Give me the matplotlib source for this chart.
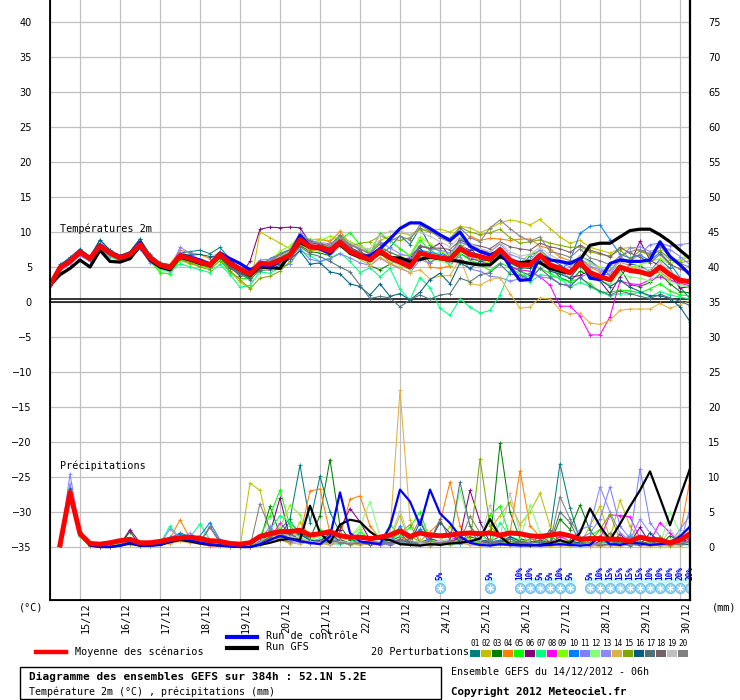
import matplotlib
matplotlib.use("Agg")
import matplotlib.pyplot as plt
from matplotlib.lines import Line2D
from matplotlib.patches import Rectangle

W, H = 740, 700
MONO = "DejaVu Sans Mono"

# time axis : hours after 14/12 06h, one value every 6h
hours = list(range(0, 385, 6))
rain_hours = hours[1:]

mean_t = [2.4,4.9,5.8,7.1,6.2,8.0,7.0,6.3,6.8,8.2,
	6.3,5.3,4.9,6.6,6.2,5.7,5.3,6.8,5.5,4.7,
	4.0,5.5,5.4,6.0,6.7,8.9,7.9,7.8,7.3,8.5,
	7.2,6.6,6.0,7.3,6.3,5.7,5.0,7.0,6.6,6.3,
	6.1,7.6,6.8,6.5,6.1,7.5,6.0,5.3,5.3,6.7,
	5.3,4.8,4.2,5.6,4.2,3.6,3.2,5.0,4.5,4.3,
	3.9,5.0,3.9,3.1,2.9]
ctrl_t = [2.4,5.0,5.9,7.2,6.3,8.2,7.1,6.5,6.9,8.5,
	6.2,5.2,4.8,6.7,6.4,6.0,5.4,7.0,6.2,5.5,
	4.6,5.2,5.0,5.8,6.8,9.5,8.0,7.6,6.9,8.6,
	7.0,6.5,6.6,7.6,9.0,10.5,11.3,11.3,10.5,9.6,
	8.8,10.0,8.0,7.2,6.7,7.4,5.0,3.1,3.2,6.7,
	6.0,5.8,5.5,6.2,3.4,3.2,5.5,6.0,5.8,5.8,
	6.0,8.6,6.5,5.3,3.9]
gfs_t = [2.4,3.9,4.8,6.0,5.0,7.4,5.8,5.7,6.2,8.0,
	6.0,5.0,4.6,6.4,6.0,5.5,5.2,6.6,5.7,4.7,
	3.8,5.0,4.9,4.8,6.8,8.5,7.8,7.6,7.5,8.2,
	7.0,6.4,6.0,7.0,6.3,6.3,5.8,6.1,6.4,6.2,
	6.0,5.8,5.5,5.3,5.3,6.5,5.8,5.6,5.8,5.6,
	4.8,4.4,4.1,6.0,8.1,8.4,8.4,9.3,10.2,10.4,
	10.4,9.6,8.6,7.4,6.2]

mean_p = [0.3,7.8,1.9,0.5,0.4,0.6,0.9,1.1,0.6,0.6,
	0.8,1.1,1.3,1.4,1.2,0.9,0.8,0.5,0.4,0.6,
	1.5,1.9,2.2,2.2,2.4,1.7,1.9,2.2,1.6,1.4,
	1.4,1.2,1.4,1.7,2.3,1.5,2.0,1.7,1.6,1.7,
	1.9,2.0,1.9,2.0,1.7,2.0,1.9,1.6,1.5,1.7,
	1.9,1.6,1.1,1.2,1.2,1.1,1.1,0.8,1.4,1.1,
	1.0,0.6,1.0,1.9]
ctrl_p = [0.3,7.9,2.0,0.3,0.0,0.0,0.2,0.6,0.2,0.2,
	0.3,0.8,1.2,1.0,0.6,0.4,0.2,0.1,0.0,0.0,
	0.4,1.0,1.6,1.2,0.8,0.6,0.4,1.5,7.8,2.0,
	0.8,0.6,0.4,2.9,8.2,6.5,3.1,8.2,4.8,3.4,
	1.5,0.6,0.3,0.2,0.4,0.3,0.2,0.3,0.2,0.3,
	0.4,0.3,0.2,0.3,1.5,0.4,0.3,0.6,0.5,0.3,
	0.4,0.6,1.5,2.9]
gfs_p = [0.3,7.5,1.8,0.2,0.0,0.0,0.2,0.5,0.2,0.2,
	0.3,0.7,1.0,0.8,0.5,0.3,0.2,0.1,0.0,0.0,
	0.3,0.6,1.0,1.2,1.0,5.9,2.0,0.6,3.2,3.9,
	3.6,2.2,1.2,1.0,0.4,0.3,0.2,0.4,0.3,0.5,
	0.6,0.8,1.2,4.0,1.5,0.4,0.3,0.2,0.3,0.5,
	1.0,0.5,2.0,5.5,3.0,1.0,3.3,5.8,8.1,10.8,
	7.0,3.1,7.2,11.2]

# 20 perturbations, temperature (°C)
t01 = [2.4,5.4,6.2,7.4,6.5,8.8,7.4,6.6,7.2,9.0, 6.8,5.6,5.3,7.0,7.2,7.4,6.9,7.8,6.1,4.3,
	3.5,5.0,6.2,6.9,7.5,9.8,8.6,8.4,8.0,9.6, 8.3,7.4,5.9,6.8,7.8,9.5,8.2,10.6,8.1,7.2,
	6.3,9.2,7.8,6.1,5.9,6.4,5.8,4.9,6.6,7.4, 6.2,5.3,4.3,6.5,5.9,4.8,3.9,6.2,5.5,5.1, 4.4,6.1,4.8,2.1,0.5]
t02 = [2.4,4.6,5.5,6.8,6.0,7.7,6.6,6.0,6.4,7.8, 5.9,5.0,4.6,6.0,5.4,5.2,4.8,6.4,4.5,2.8,
	2.0,10.0,9.2,8.4,7.6,8.5,8.2,8.9,8.8,9.4, 8.6,7.9,7.2,8.8,9.4,9.9,9.6,10.4,10.2,10.4,
	10.0,10.8,10.6,9.9,10.5,11.3,11.7,11.5,11.0,11.8, 10.5,9.3,8.4,8.8,7.8,7.4,7.0,7.6,7.8,7.3, 6.9,7.2,6.4,5.8,6.6]
t03 = [2.4,5.0,5.9,7.2,6.3,8.1,7.1,6.4,7.0,8.4, 6.1,4.9,4.8,6.4,6.1,5.4,5.0,6.3,4.8,4.0,
	3.6,4.6,5.1,5.4,6.3,8.1,7.2,7.0,6.6,8.0, 7.7,7.0,5.2,4.6,5.4,6.3,5.4,7.8,5.6,6.6,
	5.2,6.9,6.2,5.9,6.6,7.6,5.2,4.4,3.8,5.8, 5.0,3.5,2.9,4.4,3.7,3.0,2.5,4.8,2.5,2.2, 2.8,4.0,2.6,1.5,1.3]
t04 = [2.4,4.8,5.9,7.0,6.4,8.1,7.3,6.7,7.1,8.0, 6.6,5.4,5.4,7.4,7.0,6.8,6.2,7.2,5.8,4.6,
	3.7,5.2,5.8,6.6,7.2,8.7,8.9,9.0,8.6,10.1, 8.3,7.6,6.8,7.1,5.5,4.9,6.2,7.2,5.0,4.8,
	5.2,7.3,9.4,8.8,9.1,9.0,8.8,9.0,9.0,8.0, 7.6,6.4,5.9,6.2,5.0,4.3,4.6,5.7,5.2,4.5, 3.9,4.3,3.2,2.5,2.0]
t05 = [2.4,4.8,5.6,6.9,6.0,7.8,6.8,6.2,6.6,8.0, 5.9,4.2,4.0,6.0,5.6,5.3,4.9,6.2,4.2,3.4,
	3.3,5.8,5.0,6.5,7.1,9.4,7.6,8.1,7.8,8.9, 9.9,8.2,6.9,9.8,8.8,7.6,6.6,8.8,7.4,6.6,
	5.6,6.9,6.0,5.4,4.5,5.6,4.9,4.0,3.5,4.8, 4.1,3.3,2.9,3.4,2.6,1.4,1.4,1.7,1.6,1.3, 1.9,2.6,1.6,1.0,0.9]
t06 = [2.4,4.9,5.7,7.0,6.3,8.0,7.1,6.5,7.0,8.3, 6.1,5.1,4.9,6.4,6.0,5.6,5.2,6.5,5.1,3.7,
	5.8,10.4,10.7,10.6,10.7,10.6,8.5,8.2,8.2,9.2, 7.8,7.1,6.4,7.6,6.6,6.1,6.3,8.0,7.6,8.4,
	6.4,8.1,7.4,7.5,7.0,7.2,5.7,5.0,5.6,6.9, 4.9,4.3,3.5,3.8,4.5,3.0,1.2,3.6,5.4,8.7, 6.0,5.1,4.0,2.0,2.2]
t07 = [2.4,4.7,5.5,6.7,5.9,7.5,6.4,5.9,6.3,7.6, 5.8,4.7,4.3,5.5,5.0,4.6,4.2,5.4,3.9,2.1,
	2.4,4.3,4.1,5.0,5.5,7.4,6.6,5.8,6.3,7.0, 5.8,4.2,4.9,3.6,4.8,1.8,0.3,3.5,2.0,-0.9,
	-1.9,0.4,-0.7,-1.6,-1.2,1.0,4.4,4.9,2.8,3.9, 3.7,3.4,2.1,2.8,2.2,1.4,0.9,1.2,1.1,1.4, 0.7,1.5,1.0,0.7,0.4]
t08 = [2.4,4.8,5.7,7.0,6.1,7.9,6.9,6.2,6.8,8.1, 6.2,5.2,4.8,6.5,6.1,5.6,5.1,6.6,5.4,4.3,
	3.9,5.6,5.3,5.9,6.9,9.4,8.0,7.6,7.1,8.7, 7.4,7.0,5.9,7.4,6.2,5.9,5.4,7.1,6.7,6.3,
	5.7,7.5,6.3,5.8,5.4,6.8,5.0,4.6,4.4,3.6, 2.4,-0.6,-0.6,-2.0,-4.7,-4.7,-2.1,3.0,2.6,2.5, 3.2,3.6,3.1,2.7,2.3]
t09 = [2.4,4.8,5.6,6.8,6.0,7.6,6.6,6.0,6.5,7.7, 5.8,4.9,4.5,6.2,5.7,5.3,5.0,6.4,5.0,4.0,
	3.4,4.9,5.6,7.3,8.0,9.5,9.0,8.8,9.4,9.0, 8.6,8.0,7.3,8.2,7.0,6.6,6.7,9.3,8.3,7.2,
	6.7,8.4,6.9,5.8,5.6,6.4,5.8,5.6,6.9,7.3, 6.1,5.8,5.4,6.2,5.4,5.0,4.7,5.2,4.9,5.3, 5.8,6.2,5.4,6.2,6.7]
t10 = [2.4,5.0,5.9,7.1,6.3,8.1,7.1,6.4,7.0,8.3, 6.5,5.6,5.1,6.9,6.5,6.0,5.6,7.0,5.9,5.0,
	4.4,5.6,5.8,6.3,7.0,9.3,8.2,8.0,7.6,8.9, 7.5,6.9,6.3,7.5,6.6,6.2,5.5,7.4,7.1,6.8,
	6.4,7.9,7.2,6.7,6.4,7.7,6.2,5.8,5.4,6.8, 5.5,4.4,5.9,9.8,10.8,11.0,8.9,6.8,6.3,6.7, 5.9,7.1,5.5,3.5,2.8]
t11 = [2.4,4.4,5.4,6.6,5.8,7.4,6.6,6.0,6.4,7.6, 5.6,5.0,4.6,7.8,7.0,5.9,5.4,7.2,6.0,4.8,
	4.4,5.0,4.8,4.9,5.4,7.6,6.1,5.8,6.2,6.9, 6.3,5.6,5.2,6.3,5.4,4.8,4.2,6.0,5.6,6.4,
	5.6,6.5,4.7,4.4,3.7,3.5,3.0,3.3,4.2,3.6, 3.4,2.6,2.4,3.5,4.2,4.0,3.9,6.4,5.8,6.9, 8.2,8.4,8.0,8.2,8.4]
t12 = [2.4,4.9,5.8,7.0,6.2,8.0,7.0,6.4,6.9,8.2, 6.4,5.4,5.0,6.8,6.3,5.9,5.5,6.9,5.6,4.5,
	3.9,5.1,5.2,5.7,6.4,8.3,7.7,7.4,6.9,8.0, 6.8,6.2,5.6,6.9,5.9,5.2,4.6,6.6,6.1,5.9,
	5.4,7.2,6.5,6.3,5.9,7.0,5.4,4.9,4.8,6.0, 4.6,4.1,3.6,5.0,3.4,3.0,2.5,4.1,3.6,3.4, 3.0,4.1,3.0,2.4,2.1]
t13 = [2.4,5.1,6.0,7.3,6.4,8.3,7.2,6.5,7.0,8.4, 6.6,5.5,5.1,7.1,6.6,6.1,5.7,7.1,5.8,4.9,
	4.6,6.0,6.1,6.8,7.3,9.9,8.8,8.5,8.3,9.2, 8.1,7.6,7.0,8.6,7.7,6.9,6.5,8.1,7.6,7.4,
	7.0,8.6,7.9,7.6,7.1,8.3,6.8,6.3,6.0,7.5, 6.2,5.7,5.0,6.2,5.1,4.6,4.4,6.3,7.7,7.9, 7.2,7.8,7.5,6.5,5.3]
t14 = [2.4,5.0,5.9,7.2,6.2,8.1,7.0,6.4,6.8,8.2, 6.4,5.3,4.8,6.6,6.1,5.6,5.1,6.7,5.3,4.4,
	3.6,4.8,5.0,5.6,6.2,8.3,7.4,7.3,6.8,8.0, 6.8,6.1,5.2,6.4,5.5,4.9,4.2,4.6,3.3,3.7,
	3.8,6.2,2.6,2.4,3.2,3.5,1.2,-0.9,-0.7,0.6, 0.4,-1.1,-1.7,-1.6,-3.0,-3.2,-2.6,-1.2,-1.0,-1.0, -1.0,-0.2,-0.9,-0.4,0.2]
t15 = [2.4,4.9,5.8,7.1,6.1,7.9,6.9,6.2,6.7,8.0, 6.1,5.0,4.7,6.2,5.6,5.0,4.6,5.9,4.4,3.2,
	1.9,3.4,3.7,4.4,5.8,8.6,7.5,7.8,7.8,9.0, 8.0,8.4,8.6,9.4,9.0,8.8,9.2,10.4,10.0,9.6,
	9.1,10.7,10.0,9.6,9.9,10.4,9.2,8.4,8.6,8.9, 8.4,8.1,7.8,7.9,7.2,6.8,6.6,7.4,6.2,7.3, 6.6,7.4,6.0,5.6,5.9]
t16 = [2.4,5.2,6.4,7.6,6.5,8.9,7.4,6.6,7.2,9.0, 6.7,5.6,5.3,6.9,6.7,6.8,6.5,6.4,5.0,4.2,
	3.4,5.2,5.6,5.8,6.1,7.3,5.4,5.6,4.3,4.0, 2.6,2.2,1.0,2.6,0.8,1.2,0.3,1.4,3.2,4.1,
	2.6,5.6,4.8,5.8,6.0,6.9,5.6,4.9,4.8,5.8, 4.4,4.0,3.4,5.2,3.9,3.2,2.2,3.1,2.1,1.5, 0.9,0.9,0.5,-0.7,-2.8]
t17 = [2.4,4.9,5.9,7.0,6.2,8.1,7.0,6.4,6.9,8.4, 6.5,5.4,4.9,6.5,6.0,5.5,5.0,6.4,4.9,4.0,
	3.2,4.5,4.6,5.3,6.1,7.9,6.9,6.5,5.8,5.0, 4.3,2.4,0.5,0.8,0.6,-0.7,0.3,1.0,0.4,1.0,
	1.2,3.4,2.9,3.9,4.2,5.4,4.0,3.8,3.2,4.8, 3.6,2.6,2.2,3.6,2.3,1.6,1.0,1.6,1.2,0.8, 0.5,1.1,0.6,0.1,-0.5]
t18 = [2.4,5.0,5.8,7.1,6.2,8.0,7.0,6.3,6.8,8.1, 6.2,5.1,4.8,6.5,6.1,5.6,5.2,6.7,5.3,4.4,
	3.9,5.7,5.9,6.8,7.4,9.5,8.7,8.3,7.6,9.0, 7.7,7.1,6.6,7.8,7.1,6.5,5.9,8.0,7.7,7.7,
	7.5,8.8,8.3,8.0,7.6,8.6,7.9,7.6,7.4,8.4, 7.9,7.6,7.1,8.1,7.4,7.0,6.4,7.8,7.0,6.4, 5.6,6.8,5.4,4.7,4.2]
t19 = [2.4,4.8,5.7,7.1,6.3,8.1,7.1,6.5,7.0,8.3, 6.4,5.4,5.0,6.7,6.3,5.8,5.4,6.9,5.7,4.8,
	4.2,5.4,5.9,6.6,7.3,9.1,8.4,8.6,8.0,9.3, 8.4,7.8,7.6,9.5,10.1,10.2,9.6,10.0,9.4,8.6,
	7.9,9.3,8.4,7.6,7.2,8.5,7.2,6.6,6.8,7.8, 6.7,6.0,5.4,6.7,5.6,4.8,4.2,5.9,5.0,4.8, 4.6,5.7,4.4,3.4,3.0]
t20 = [2.4,5.0,5.9,7.2,6.3,8.1,7.1,6.5,7.0,8.4, 6.6,5.6,5.2,6.9,6.4,5.9,5.5,7.1,5.8,4.8,
	3.8,5.4,5.8,6.8,7.4,9.6,8.5,8.4,7.9,9.4, 8.2,7.6,6.9,8.3,8.7,9.4,8.9,11.0,10.1,9.2,
	8.5,10.6,9.2,8.6,10.6,11.7,10.5,9.4,8.7,9.3, 7.2,6.9,6.4,7.6,6.3,5.9,5.3,6.6,7.2,7.5, 6.8,8.0,6.4,5.5,5.0]

# 20 perturbations, precipitation (mm / 6h)
p01 = [0.3,8.5,2.0,0.2,0,0,0.3,0.8,0.2,0.3, 0.6,1.2,2.0,1.5,1.0,0.5,0.3,0.2,0,0,
	0.4,1.6,2.5,4.0,11.7,3.5,10.1,5.0,2.0,1.0, 0.8,0.4,0.6,1.2,2.0,0.5,1.0,0.6,0.3,0.8,
	1.2,0.6,0.4,0.8,1.5,0.6,0.8,0.3,1.0,2.0, 11.9,5.6,1.0,0.4,0.2,0.3,0.5,0.2,0.8,0.4, 0.6,0.3,0.5,1.5]
p02 = [0.3,7.6,1.8,0.3,0,0,0.2,0.4,0.2,0.2, 0.5,1.0,1.6,1.2,0.8,0.6,0.4,0.2,0,9.1,
	8.1,2.0,1.0,0.5,3.6,1.0,0.6,2.0,1.2,0.4, 0.3,0.5,0.6,1.0,4.5,0.6,0.3,0.2,0.6,3.0,
	0.8,0.5,1.0,2.5,4.5,6.4,3.2,5.0,7.7,3.0, 1.0,0.6,0.4,3.0,5.8,1.2,6.7,3.0,0.8,0.4, 0.3,0.2,0.5,1.0]
p03 = [0.3,7.2,1.6,0.2,0,0.2,0.3,2.2,0.2,0.2, 0.4,0.9,1.3,1.1,0.6,0.3,0.2,0.1,0,0,
	0.8,5.8,1.8,3.6,2.0,1.2,4.5,12.5,3.0,1.0, 0.6,0.3,0.5,0.8,1.5,0.8,0.4,0.3,0.6,0.5,
	0.8,1.5,1.0,0.6,14.8,5.0,1.2,0.8,0.5,0.3, 4.0,2.5,6.0,2.4,0.6,0.3,0.8,1.5,0.6,0.4, 0.3,1.6,0.8,2.0]
p04 = [0.3,7.9,2.0,0.4,0.1,0.3,0.6,1.0,0.4,0.3, 0.5,1.2,3.9,1.2,0.7,0.4,0.3,0.2,0.1,0,
	0.6,1.5,1.2,2.2,1.6,8.0,8.3,2.0,1.5,6.8, 7.3,3.0,1.2,0.6,1.0,1.5,0.8,2.2,3.5,9.3,
	3.0,1.0,0.6,1.2,0.8,2.0,10.9,3.0,1.5,0.8, 0.5,0.3,0.8,0.4,0.6,0.3,1.0,0.5,0.4,0.6, 0.4,0.8,1.8,9.6]
p05 = [0.3,7.0,1.5,0.2,0,0,0.2,0.8,0.2,0.2, 0.4,1.1,1.5,1.2,0.8,0.6,0.3,0.2,0,0,
	1.5,4.5,8.1,3.0,1.4,0.6,2.5,1.5,0.8,0.3, 0.4,0.8,0.6,3.2,1.5,2.8,5.0,1.0,0.6,0.8,
	0.6,0.4,0.8,4.6,5.8,1.5,1.0,0.6,0.4,1.5, 0.8,0.4,0.2,1.6,2.5,0.6,0.3,0.8,0.5,0.3, 0.2,0.4,0.6,0.8]
p06 = [0.3,8.0,1.9,0.3,0,0.1,0.3,2.5,0.6,0.2, 0.3,0.8,1.4,1.0,0.6,0.4,0.3,0.1,0,0,
	0.6,2.0,7.0,1.2,0.8,0.6,1.0,1.6,2.5,5.5, 3.6,1.0,0.5,0.3,0.8,0.5,0.6,1.2,0.8,0.6,
	1.5,8.1,3.6,0.6,0.8,0.5,0.3,0.6,1.0,0.5, 0.3,0.6,0.5,0.2,0.8,0.4,1.8,0.6,2.8,0.5, 1.0,0.4,0.6,1.2]
p07 = [0.3,7.5,1.8,0.2,0,0.1,0.4,1.0,0.3,0.2, 0.5,3.0,1.2,1.4,3.3,1.0,0.6,0.3,0,0,
	0.3,2.5,4.5,3.5,2.0,0.8,1.2,0.5,0.4,0.6, 2.2,1.0,0.6,0.8,2.0,1.2,2.5,0.8,0.4,0.3,
	0.5,0.8,1.0,0.6,3.5,1.5,0.4,0.3,0.6,0.5, 0.4,0.2,0.6,0.3,0.5,1.0,0.4,1.8,0.6,0.4, 0.5,0.3,0.4,0.8]
p08 = [0.3,7.7,1.9,0.2,0,0,0.2,0.5,0.1,0.1, 0.3,0.6,1.0,0.8,0.4,0.2,0.1,0,0,0,
	0.5,1.2,3.4,2.0,1.0,0.6,0.8,0.5,0.8,0.4, 0.6,0.4,0.3,0.5,1.2,0.6,0.4,0.3,0.5,1.0,
	1.5,0.6,0.4,0.3,0.8,1.2,0.5,0.3,1.8,0.6, 1.5,0.8,0.4,0.6,1.2,4.6,4.5,4.3,1.2,0.8, 3.5,2.0,0.6,1.0]
p09 = [0.3,7.4,1.7,0.2,0,0,0.2,0.4,0.1,0.2, 0.4,1.0,1.6,1.2,0.8,0.5,0.3,0.2,0,0,
	0.6,1.6,2.8,6.0,4.6,1.0,0.6,1.5,0.6,1.5, 2.6,0.8,0.5,0.4,0.8,0.6,0.5,0.6,0.4,0.6,
	0.8,1.2,0.6,0.3,0.5,0.8,1.0,0.4,0.3,0.5, 0.6,0.8,0.4,0.3,0.6,0.4,0.8,0.3,0.5,0.6, 0.4,0.5,0.3,0.6]
p10 = [0.3,7.6,1.9,0.3,0,0,0.3,0.8,0.3,0.3, 0.6,1.4,1.8,1.3,1.6,3.5,1.0,0.3,0,0,
	0.4,1.2,1.6,1.0,2.0,0.8,0.6,0.6,1.0,0.4, 0.5,0.6,0.8,0.6,3.0,0.8,2.6,0.5,0.4,0.6,
	0.8,0.4,0.5,0.6,1.0,0.5,0.8,0.6,0.4,0.5, 0.6,0.4,0.5,0.3,0.4,0.6,0.3,1.2,0.4,0.3, 0.5,0.4,1.6,3.0]
p11 = [0.3,10.4,2.2,0.3,0,0,0.3,0.7,0.2,0.2, 0.4,0.8,1.4,1.0,0.6,0.4,0.2,0.1,0,0,
	0.8,3.0,1.2,0.6,0.8,0.5,0.4,1.0,0.6,0.4, 0.6,0.8,0.4,0.3,0.6,0.5,0.4,0.3,0.8,0.6,
	0.4,0.6,0.5,0.3,0.4,0.6,0.8,0.5,0.4,0.3, 0.6,0.8,1.2,2.0,4.0,8.6,3.0,1.2,11.2,3.5, 1.5,0.5,2.5,4.5]
p12 = [0.3,6.8,1.5,0.2,0,0,0.2,0.6,0.2,0.2, 0.4,0.8,1.2,1.0,0.6,0.5,0.4,0.1,0,0,
	0.5,1.0,1.8,2.5,1.2,1.0,1.5,0.8,2.0,1.5, 3.0,6.5,1.5,0.8,0.6,0.5,1.0,0.6,0.8,1.2,
	8.1,3.0,1.5,0.8,0.4,0.6,1.0,6.0,2.0,0.8, 0.5,0.3,0.4,0.6,0.3,0.8,0.5,0.3,0.6,0.4, 0.3,5.0,2.0,0.6]
p13 = [0.3,9.0,2.0,0.3,0,0,0.2,0.5,0.2,0.2, 0.3,2.6,1.2,2.0,1.0,0.4,0.2,0.1,0,0,
	0.4,1.4,2.2,1.2,0.6,0.8,0.5,1.8,0.6,0.4, 0.5,0.4,0.6,0.5,0.8,0.6,0.4,0.5,0.3,0.5,
	0.6,0.4,0.3,0.5,0.6,0.4,0.5,0.3,0.6,0.4, 0.3,1.0,2.5,3.0,8.6,5.0,2.0,1.0,4.0,2.0, 0.8,0.6,0.4,5.5]
p14 = [0.3,7.0,1.6,0.2,0,0.2,0.8,0.3,0.1,0.1, 0.3,0.5,0.8,0.6,0.4,0.2,0.1,0,0,0,
	0.3,0.8,1.2,0.6,0.4,0.8,0.5,0.3,0.6,0.4, 0.3,0.5,0.6,2.0,22.4,3.9,0.8,0.5,0.3,0.4,
	0.6,0.3,0.2,0.4,0.3,0.2,0.4,0.3,0.2,0.1, 0.2,0.1,0.3,0.2,0.1,0.2,0.1,0.3,0.2,0.1, 0.2,0.1,0.2,0.4]
p15 = [0.3,7.3,1.7,0.2,0,0,0.2,0.5,0.2,0.2, 0.4,0.9,1.3,1.0,0.6,0.4,0.2,0.1,0,0,
	0.6,1.4,2.0,1.2,0.8,0.6,0.5,0.8,0.6,0.4, 0.8,0.6,0.8,1.2,2.0,3.2,0.6,0.8,0.4,0.6,
	1.0,0.6,12.6,3.0,1.5,0.8,0.6,1.2,0.8,0.5, 0.6,1.0,0.5,0.6,2.5,4.7,1.0,0.6,0.8,0.4, 1.5,0.6,0.4,0.8]
p16 = [0.3,8.3,2.1,0.3,0,0,0.3,0.6,0.3,0.3, 0.5,0.9,1.4,1.1,0.7,0.4,0.3,0.2,0,0,
	0.4,1.0,1.5,2.5,1.8,1.0,0.8,2.0,0.8,0.6, 0.6,0.4,0.8,1.0,0.6,0.4,3.6,0.8,3.5,2.0,
	0.8,0.6,1.0,0.8,0.6,1.5,0.8,0.4,0.6,0.8, 0.5,0.8,0.6,0.4,0.3,0.5,0.6,0.4,0.3,2.0, 0.6,0.4,0.5,0.3]
p17 = [0.3,8.0,2.0,0.3,0,0,0.3,0.7,0.3,0.2, 0.4,1.0,1.5,1.2,1.4,0.5,0.3,0.2,0,0,
	0.4,1.2,1.5,1.8,1.0,0.8,0.6,0.5,1.0,0.6, 0.8,0.6,0.4,0.6,1.0,0.8,0.6,0.4,0.5,0.8,
	9.3,3.0,1.0,0.6,0.8,1.2,0.5,0.3,0.4,0.6, 5.0,3.5,0.6,0.4,0.3,0.5,0.8,0.3,0.6,0.4, 0.3,0.5,0.4,0.6]
p18 = [0.3,7.8,1.9,0.2,0,0,0.3,0.6,0.2,0.2, 0.4,1.0,1.4,1.0,0.6,2.8,0.6,0.2,0,0,
	0.5,1.5,1.0,0.8,1.2,0.6,0.8,1.0,0.6,0.5, 0.6,0.8,0.5,0.6,1.0,0.6,0.4,0.8,4.0,1.0,
	0.6,2.2,0.8,0.5,0.6,0.4,0.8,0.5,0.4,2.5, 0.8,0.6,0.4,0.5,0.3,0.6,0.4,0.3,0.5,0.8, 0.4,0.3,0.6,0.5]
p19 = [0.3,7.1,1.6,0.2,0,0,0.2,0.6,0.2,0.2, 0.4,0.9,1.3,1.0,0.6,0.4,0.2,0.1,0,0,
	0.5,1.0,2.0,1.5,1.2,0.8,0.6,0.5,0.8,0.6, 0.8,0.6,0.8,1.2,5.2,1.0,0.6,0.5,1.0,0.8,
	0.6,0.5,1.0,6.0,1.5,7.7,2.0,0.6,0.4,0.5, 0.6,0.4,0.3,0.5,0.4,0.6,1.2,0.6,0.4,0.5, 0.3,2.5,0.8,0.4]
p20 = [0.3,7.9,2.0,0.3,0,0,0.3,0.8,0.2,0.3, 0.5,1.1,1.6,1.3,0.8,3.0,0.8,0.2,0,0,
	6.2,2.5,1.2,0.8,1.0,0.6,0.8,1.2,0.6,0.5, 0.6,0.8,0.6,0.5,0.8,1.2,4.0,0.8,0.6,0.8,
	0.6,4.4,2.0,0.8,0.6,0.4,0.5,0.6,0.8,0.6, 7.2,4.0,1.5,0.6,0.4,2.0,0.6,0.3,0.5,0.4, 0.6,0.4,0.5,0.8]

pert_t = [t01, t02, t03, t04, t05, t06, t07, t08, t09, t10,
	t11, t12, t13, t14, t15, t16, t17, t18, t19, t20]
pert_p = [p01, p02, p03, p04, p05, p06, p07, p08, p09, p10,
	p11, p12, p13, p14, p15, p16, p17, p18, p19, p20]
pert_colors = ["#008080", "#c0c000", "#008000", "#ff8000", "#00ff00",
	"#800080", "#00ff80", "#ff00ff", "#80ff00", "#0080ff",
	"#8080ff", "#80ff80", "#8888ff", "#e0b040", "#80a800",
	"#006080", "#507078", "#786068", "#c0c0c0", "#808080"]

day_labels = ["15/12", "16/12", "17/12", "18/12", "19/12", "20/12", "21/12", "22/12",
	"23/12", "24/12", "25/12", "26/12", "27/12", "28/12", "29/12", "30/12"]
day_hours = [18, 42, 66, 90, 114, 138, 162, 186, 210, 234, 258, 282, 306, 330, 354, 378]

snow_hours = [234, 264, 282, 288, 294, 300, 306, 312,
	324, 330, 336, 342, 348, 354, 360, 366, 372, 378, 384]
snow_pct = [5, 5, 10, 10, 5, 5, 10, 5,
	5, 10, 15, 15, 15, 15, 10, 10, 10, 20, 20]

RAIN_BASE = -35
Y_BOT = (302 - 600) / 7.0
Y_TOP = 302 / 7.0


def fx(px):
	return px / W


def fy(py):
	return 1 - py / H


def rain(vals):
	return [RAIN_BASE + v for v in vals]


fig = plt.figure(figsize=(W / 100, H / 100), dpi=100)
fig.patch.set_facecolor("white")
ax = fig.add_axes([50 / W, 100 / H, 640 / W, 600 / H])
ax.set_xlim(0, 384)
ax.set_ylim(Y_BOT, Y_TOP)

ax.set_xticks(day_hours)
ax.set_yticks(range(-35, 41, 5))
ax.grid(True, color="#c0c0c0", lw=0.9)
ax.set_axisbelow(True)
ax.tick_params(length=0, labelbottom=False, labelsize=7, pad=13)
for s in ["top"]:
	ax.spines[s].set_visible(False)
for s in ["left", "right", "bottom"]:
	ax.spines[s].set_linewidth(1.3)

ax2 = ax.twinx()
ax2.set_ylim(Y_BOT + 35, Y_TOP + 35)
ax2.set_yticks(range(0, 76, 5))
ax2.tick_params(length=0, labelsize=7, pad=13)
ax2.spines["top"].set_visible(False)
ax2.spines["right"].set_linewidth(1.6)

# double line at 0°C
ax.axhline(0.45, color="black", lw=1.1, zorder=1.5)
ax.axhline(0.0, color="black", lw=1.1, zorder=1.5)

for vals, col in zip(pert_t, pert_colors):
	ax.plot(hours, vals, color=col, lw=0.75, marker="+", ms=2.5, mew=0.6, zorder=2)
for vals, col in zip(pert_p, pert_colors):
	ax.plot(rain_hours, rain(vals), color=col, lw=0.75, marker="+", ms=2.5, mew=0.6, zorder=2)

ax.plot(hours, gfs_t, color="black", lw=2.3, zorder=3)
ax.plot(rain_hours, rain(gfs_p), color="black", lw=1.6, zorder=3)
ax.plot(hours, ctrl_t, color="#0000ff", lw=2.3, zorder=3.1)
ax.plot(rain_hours, rain(ctrl_p), color="#0000ff", lw=1.6, zorder=3.1)
ax.plot(hours, mean_t, color="#ff0000", lw=3.6, zorder=4)
ax.plot(rain_hours, rain(mean_p), color="#ff0000", lw=3.6, zorder=4)

ax.text(6, 10.4, "Températures 2m", family=MONO, size=7.3, va="center", ha="left", zorder=5)
ax.text(6, -23.4, "Précipitations", family=MONO, size=7.3, va="center", ha="left", zorder=5)

# snow probability icons
ax.bar(snow_hours, [0.75] * len(snow_hours), bottom=-40.2, width=6.2, color="#c8f8ff", zorder=2)
ax.scatter(snow_hours, [-40.86] * len(snow_hours), s=55, marker="o", color="#8cd0f4",
	edgecolors="#60b0e0", linewidths=0.5, zorder=3)
ax.scatter(snow_hours, [-40.86] * len(snow_hours), s=18, marker=(6, 2, 0), color="white",
	linewidths=0.7, zorder=3.2)
for h, pct in zip(snow_hours, snow_pct):
	ax.text(h, -39.7, "%d%%" % pct, rotation=90, ha="center", va="bottom", color="#0000ff",
		family=MONO, size=5.5, weight="bold", zorder=4)

# date labels
for h, lab in zip(day_hours, day_labels):
	px = 50 + h * 10 / 6.0
	fig.text(fx(px + 6), fy(602), lab, rotation=90, ha="center", va="top", family=MONO, size=7.3)

fig.text(fx(19), fy(607), "(°C)", ha="left", va="center", family=MONO, size=7.3)
fig.text(fx(712), fy(607), "(mm)", ha="left", va="center", family=MONO, size=7.3)

# legend
fig.add_artist(Line2D([fx(36), fx(66)], [fy(652), fy(652)], color="#ff0000", lw=3.2))
fig.text(fx(75), fy(652), "Moyenne des scénarios", va="center", family=MONO, size=7.3)
fig.add_artist(Line2D([fx(227), fx(257)], [fy(637), fy(637)], color="#0000ff", lw=3.0))
fig.text(fx(266), fy(636), "Run de contrôle", va="center", family=MONO, size=7.3)
fig.add_artist(Line2D([fx(227), fx(257)], [fy(648), fy(648)], color="black", lw=3.0))
fig.text(fx(266), fy(647), "Run GFS", va="center", family=MONO, size=7.3)
fig.text(fx(371), fy(652), "20 Perturbations", va="center", family=MONO, size=7.3)
for i, col in enumerate(pert_colors):
	x0 = 470 + i * 10.95
	fig.add_artist(Rectangle((fx(x0), fy(657)), 10 / W, 7 / H, transform=fig.transFigure,
		facecolor=col, edgecolor="none"))
	fig.text(fx(x0 + 5), fy(643), "%02d" % (i + 1), ha="center", va="center", family=MONO, size=5.6)

fig.add_artist(Rectangle((fx(20), fy(699)), 421 / W, 32 / H, transform=fig.transFigure,
	facecolor="none", edgecolor="black", lw=1.0))
fig.text(fx(29), fy(677), "Diagramme des ensembles GEFS sur 384h : 52.1N 5.2E",
	va="center", family=MONO, size=8.0, weight="bold")
fig.text(fx(29), fy(692), "Température 2m (°C) , précipitations (mm)",
	va="center", family=MONO, size=7.2)
fig.text(fx(451), fy(672), "Ensemble GEFS du 14/12/2012 - 06h", va="center", family=MONO, size=7.2)
fig.text(fx(451), fy(692), "Copyright 2012 Meteociel.fr", va="center", family=MONO, size=7.8,
	weight="bold")

fig.savefig("out.png", dpi=100, facecolor="white")
